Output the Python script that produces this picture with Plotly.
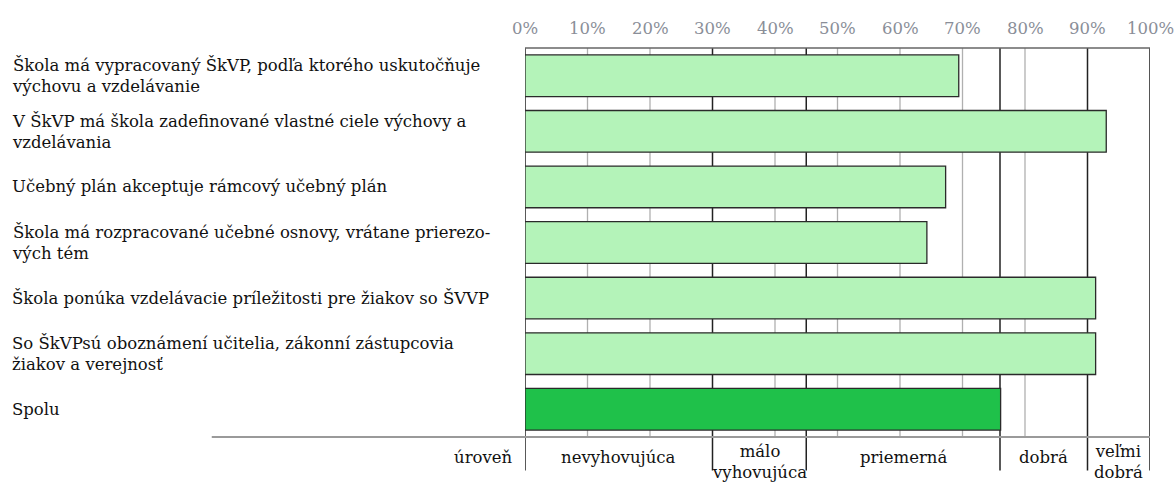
import plotly.graph_objects as go

categories = [
    "Škola má vypracovaný ŠkVP, podľa ktorého uskutočňuje<br>výchovu a vzdelávanie",
    "V ŠkVP má škola zadefinované vlastné ciele výchovy a<br>vzdelávania",
    "Učebný plán akceptuje rámcový učebný plán",
    "Škola má rozpracované učebné osnovy, vrátane prierezo-<br>vých tém",
    "Škola ponúka vzdelávacie príležitosti pre žiakov so ŠVVP",
    "So ŠkVPsú oboznámení učitelia, zákonní zástupcovia<br>žiakov a verejnosť",
    "Spolu",
]
values = [69.4, 93.0, 67.3, 64.3, 91.3, 91.3, 76.1]
bar_colors = ["#b4f3b9"] * 6 + ["#1fc14a"]

x_ticks = [0, 10, 20, 30, 40, 50, 60, 70, 80, 90, 100]
x_ticktext = [f"{v}%" for v in x_ticks]
minor_grid = [10, 20, 40, 50, 60, 70, 80]
level_bounds = [0, 30, 45, 76, 90, 100]
level_names = ["nevyhovujúca", "málo<br>vyhovujúca", "priemerná", "dobrá", "veľmi<br>dobrá"]
level_title = "úroveň"

FONT = "DejaVu Serif"
FS = 16.5
W, H = 1175, 485
ML = 524.5
MR = W - 1150
MT = 48
MB = H - 437.5
plot_w = W - ML - MR
plot_h = H - MT - MB


def px_to_paper_x(px):
    return (px - ML) / plot_w


def px_to_paper_y(py):
    return ((H - MB) - py) / plot_h


ypos = list(range(len(categories)))

fig = go.Figure()
fig.add_trace(go.Bar(
    x=values, y=ypos, orientation="h", width=0.75,
    marker=dict(color=bar_colors, line=dict(color="#2a2a2a", width=1.3)),
    hoverinfo="x",
))

shapes = []
for g in minor_grid:
    shapes.append(dict(type="line", xref="x", yref="paper", x0=g, x1=g, y0=0, y1=1,
                       line=dict(color="#b0b0b0", width=1.3), layer="below"))
ext = px_to_paper_y(471)
for b in level_bounds:
    col = "#555555" if b == 100 else "#222222"
    shapes.append(dict(type="line", xref="x", yref="paper", x0=b, x1=b, y0=ext, y1=1,
                       line=dict(color=col, width=1.5 if b != 100 else 2), layer="below"))
shapes.append(dict(type="line", xref="paper", yref="paper", x0=0, x1=1, y0=1, y1=1,
                   line=dict(color="#666666", width=1.5), layer="below"))
shapes.append(dict(type="line", xref="paper", yref="paper", x0=px_to_paper_x(211), x1=1, y0=0, y1=0,
                   line=dict(color="#9a9a9a", width=2), layer="above"))

annotations = []
for v, t in zip(x_ticks, x_ticktext):
    annotations.append(dict(x=v, xref="x", y=px_to_paper_y(28), yref="paper", text=t,
                            showarrow=False, xanchor="center", yanchor="middle",
                            font=dict(family=FONT, size=FS, color="#8a8e98")))
for i, c in enumerate(categories):
    annotations.append(dict(x=px_to_paper_x(9), xref="paper", y=i, yref="y",
                            text=c, showarrow=False, xanchor="left", yanchor="middle",
                            align="left", font=dict(family=FONT, size=FS, color="#111111")))
for i, name in enumerate(level_names):
    cx = (level_bounds[i] + level_bounds[i + 1]) / 2
    if "<br>" in name:
        yy, ya = px_to_paper_y(441), "top"
    else:
        yy, ya = px_to_paper_y(458), "middle"
    annotations.append(dict(x=cx, xref="x", y=yy, yref="paper",
                            text=name, showarrow=False, xanchor="center", yanchor=ya,
                            align="center", font=dict(family=FONT, size=FS, color="#111111")))
annotations.append(dict(x=px_to_paper_x(514), xref="paper", y=px_to_paper_y(458), yref="paper",
                        text=level_title, showarrow=False, xanchor="right", yanchor="middle",
                        font=dict(family=FONT, size=FS, color="#111111")))

fig.update_layout(
    width=W, height=H,
    margin=dict(l=ML, r=MR, t=MT, b=MB, pad=0, autoexpand=False),
    paper_bgcolor="white", plot_bgcolor="white",
    showlegend=False, bargap=0.25,
    xaxis=dict(range=[0, 100], side="top", showticklabels=False,
               showgrid=False, zeroline=False, showline=False, ticks="",
               fixedrange=True),
    yaxis=dict(range=[len(categories) - 0.5, -0.5], showticklabels=False, showgrid=False,
               zeroline=False, showline=False, ticks="", fixedrange=True),
    shapes=shapes, annotations=annotations,
)

fig.write_html("out.html", config={"displayModeBar": False},
               post_script="document.body.style.margin='0';document.body.style.overflow='hidden';")
